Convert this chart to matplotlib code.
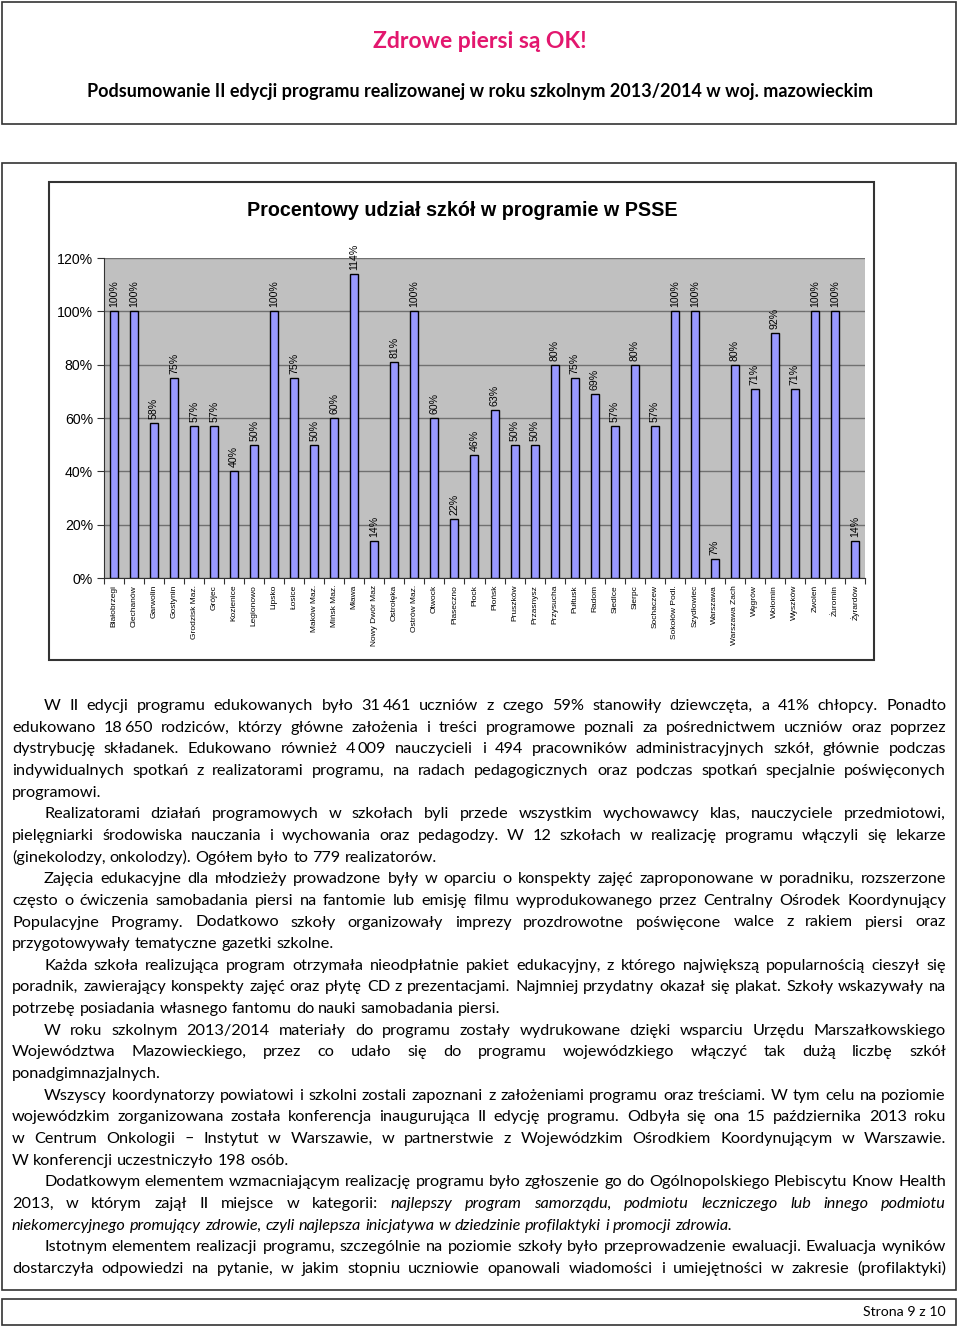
import matplotlib
matplotlib.use("Agg")
import matplotlib.pyplot as plt
from matplotlib.patches import Rectangle
import numpy as np

# data
powiaty = ["Białobrzegi", "Ciechanów", "Garwolin", "Gostynin", "Grodzisk Maz.", "Grójec",
           "Kozienice", "Legionowo", "Lipsko", "Łosice", "Maków Maz.", "Mińsk Maz.", "Mława",
           "Nowy Dwór Maz", "Ostrołęka", "Ostrów Maz.", "Otwock", "Piaseczno", "Płock",
           "Płońsk", "Pruszków", "Przasnysz", "Przysucha", "Pułtusk", "Radom", "Siedlce",
           "Sierpc", "Sochaczew", "Sokołów Podl.", "Szydłowiec", "Warszawa", "Warszawa Zach",
           "Węgrów", "Wołomin", "Wyszków", "Zwoleń", "Żuromin", "Żyrardów"]
udzial = [100, 100, 58, 75, 57, 57, 40, 50, 100, 75, 50, 60, 114, 14, 81, 100, 60, 22, 46,
          63, 50, 50, 80, 75, 69, 57, 80, 57, 100, 100, 7, 80, 71, 92, 71, 100, 100, 14]
y_ticks = [0, 20, 40, 60, 80, 100, 120]

naglowek = "Zdrowe piersi są OK!"
podtytul = "Podsumowanie II edycji programu realizowanej w roku szkolnym 2013/2014 w woj. mazowieckim"
tytul_wykresu = "Procentowy udział szkół w programie w PSSE"
stopka = "Strona 9 z 10"

# text of the page, line by line as in the original
# '|' = italic from here on, '~' = narrow fixed space inside a number
akapity = [
    ["W II edycji programu edukowanych było 31~461 uczniów z czego 59% stanowiły dziewczęta, a 41% chłopcy. Ponadto",
     "edukowano 18~650 rodziców, którzy główne założenia i treści programowe poznali za pośrednictwem uczniów oraz poprzez",
     "dystrybucję składanek. Edukowano również 4~009 nauczycieli i 494 pracowników administracyjnych szkół, głównie podczas",
     "indywidualnych spotkań z realizatorami programu, na radach pedagogicznych oraz podczas spotkań specjalnie poświęconych",
     "programowi."],
    ["Realizatorami działań programowych w szkołach byli przede wszystkim wychowawcy klas, nauczyciele przedmiotowi,",
     "pielęgniarki środowiska nauczania i wychowania oraz pedagodzy. W 12 szkołach w realizację programu włączyli się lekarze",
     "(ginekolodzy, onkolodzy). Ogółem było to 779 realizatorów."],
    ["Zajęcia edukacyjne dla młodzieży prowadzone były w oparciu o konspekty zajęć zaproponowane w poradniku, rozszerzone",
     "często o ćwiczenia samobadania piersi na fantomie lub emisję filmu wyprodukowanego przez Centralny Ośrodek Koordynujący",
     "Populacyjne Programy. Dodatkowo szkoły organizowały imprezy prozdrowotne poświęcone walce z rakiem piersi oraz",
     "przygotowywały tematyczne gazetki szkolne."],
    ["Każda szkoła realizująca program otrzymała nieodpłatnie pakiet edukacyjny, z którego największą popularnością cieszył się",
     "poradnik, zawierający konspekty zajęć oraz płytę CD z prezentacjami. Najmniej przydatny okazał się plakat. Szkoły wskazywały na",
     "potrzebę posiadania własnego fantomu do nauki samobadania piersi."],
    ["W roku szkolnym 2013/2014 materiały do programu zostały wydrukowane dzięki wsparciu Urzędu Marszałkowskiego",
     "Województwa Mazowieckiego, przez co udało się do programu wojewódzkiego włączyć tak dużą liczbę szkół",
     "ponadgimnazjalnych."],
    ["Wszyscy koordynatorzy powiatowi i szkolni zostali zapoznani z założeniami programu oraz treściami. W tym celu na poziomie",
     "wojewódzkim zorganizowana została konferencja inaugurująca II edycję programu. Odbyła się ona 15 października 2013 roku",
     "w Centrum Onkologii – Instytut w Warszawie, w partnerstwie z Wojewódzkim Ośrodkiem Koordynującym w Warszawie.",
     "W konferencji uczestniczyło 198 osób."],
    ["Dodatkowym elementem wzmacniającym realizację programu było zgłoszenie go do Ogólnopolskiego Plebiscytu Know Health",
     "2013, w którym zajął II miejsce w kategorii: |najlepszy program samorządu, podmiotu leczniczego lub innego podmiotu",
     "|niekomercyjnego promujący zdrowie, czyli najlepsza inicjatywa w dziedzinie profilaktyki i promocji zdrowia."],
    ["Istotnym elementem realizacji programu, szczególnie na poziomie szkoły było przeprowadzenie ewaluacji. Ewaluacja wyników",
     "dostarczyła odpowiedzi na pytanie, w jakim stopniu uczniowie opanowali wiadomości  i umiejętności w zakresie (profilaktyki)"],
]

BODY = "Lato"
CHART = "Liberation Sans"
FS = 11.7  # body font size

fig = plt.figure(figsize=(9.6, 13.28), dpi=100)
fig.patch.set_facecolor("white")

# page layer in pixel coords
page = fig.add_axes([0, 0, 1, 1])
page.set_xlim(0, 960)
page.set_ylim(1328, 0)
page.axis("off")

def box(x0, y0, x1, y1, lw=1.2):
    page.add_patch(Rectangle((x0, y0), x1 - x0, y1 - y0, fill=False, ec="#333333", lw=lw))

box(2, 2, 956, 124)
box(2, 163, 956, 1290)
box(2, 1299, 956, 1325)
box(49, 182, 874, 660, lw=1.5)

page.text(480, 42, naglowek, ha="center", va="center", fontsize=16.5, fontweight="bold",
          color="#E3176E", family=BODY)
page.text(480, 92, podtytul, ha="center", va="center", fontsize=13.0, fontweight="bold",
          color="black", family=BODY)
page.text(462, 211, tytul_wykresu, ha="center", va="center", fontsize=14.2, fontweight="bold",
          family=CHART)
page.text(946, 1312, stopka, ha="right", va="center", fontsize=10.2, family=BODY)

# the bar chart
ax = fig.add_axes([104 / 960, 1 - 578 / 1328, 761 / 960, 320 / 1328])
ax.set_facecolor("#C0C0C0")
x = np.arange(len(powiaty))
ax.bar(x, udzial, width=0.4, color="#9999FF", edgecolor="black", linewidth=1, zorder=3)
for xi, v in zip(x, udzial):
    ax.annotate(f"{v}%", (xi, v), xytext=(0, 3), textcoords="offset points", rotation=90,
                ha="center", va="bottom", fontsize=7.6, family=CHART)
ax.set_xlim(-0.5, len(powiaty) - 0.5)
ax.set_ylim(0, 120)
ax.set_yticks(y_ticks)
ax.set_yticklabels([f"{t}%" for t in y_ticks], family=CHART, fontsize=10.2)
ax.yaxis.grid(True, color="#707070", lw=1, zorder=1)
ax.set_xticks(np.arange(len(powiaty) + 1) - 0.5)
ax.set_xticklabels([])
ax.set_xticks(x, minor=True)
ax.set_xticklabels(powiaty, minor=True, rotation=90, fontsize=6.0, family=CHART)
ax.tick_params(axis="x", which="major", length=4, direction="out", color="#333333")
ax.tick_params(axis="x", which="minor", length=0, pad=5)
ax.tick_params(axis="y", length=5, direction="out", pad=3, color="#333333")
for s in ["top", "right"]:
    ax.spines[s].set_visible(False)
for s in ["left", "bottom"]:
    ax.spines[s].set_color("#333333")

# justified body text
fig.canvas.draw()
r = fig.canvas.get_renderer()

def width(s, style="normal"):
    t = page.text(0, 0, s, fontsize=FS, family=BODY, style=style)
    w = t.get_window_extent(r).width
    t.remove()
    return w

space = width("a a") - width("aa")
thin = space * 0.55

def put_word(xc, y, w, st):
    # draw one word (parts joined by '~' get a narrow fixed gap)
    parts = w.split("~")
    for k, p in enumerate(parts):
        page.text(xc, y, p, fontsize=FS, family=BODY, style=st, va="baseline", ha="left")
        xc += width(p, st) + thin

def word_width(w, st):
    parts = w.split("~")
    return sum(width(p, st) for p in parts) + thin * (len(parts) - 1)

left, right, indent = 12, 946, 32
base, step = 710, 21.65
n = 0
for pi, lines in enumerate(akapity):
    for li, line in enumerate(lines):
        y = base + n * step
        x0 = left + (indent if li == 0 else 0)
        words = []
        italic = False
        for w in line.split():
            if w.startswith("|"):
                italic = True
                w = w[1:]
            words.append((w, "italic" if italic else "normal"))
        widths = [word_width(w, st) for w, st in words]
        last = li == len(lines) - 1 and pi != len(akapity) - 1
        if last or len(words) < 2:
            gap = space
        else:
            gap = (right - x0 - sum(widths)) / (len(words) - 1)
        xc = x0
        for (w, st), ww in zip(words, widths):
            put_word(xc, y, w, st)
            xc += ww + gap
        n += 1

fig.savefig("out.png", dpi=100)
